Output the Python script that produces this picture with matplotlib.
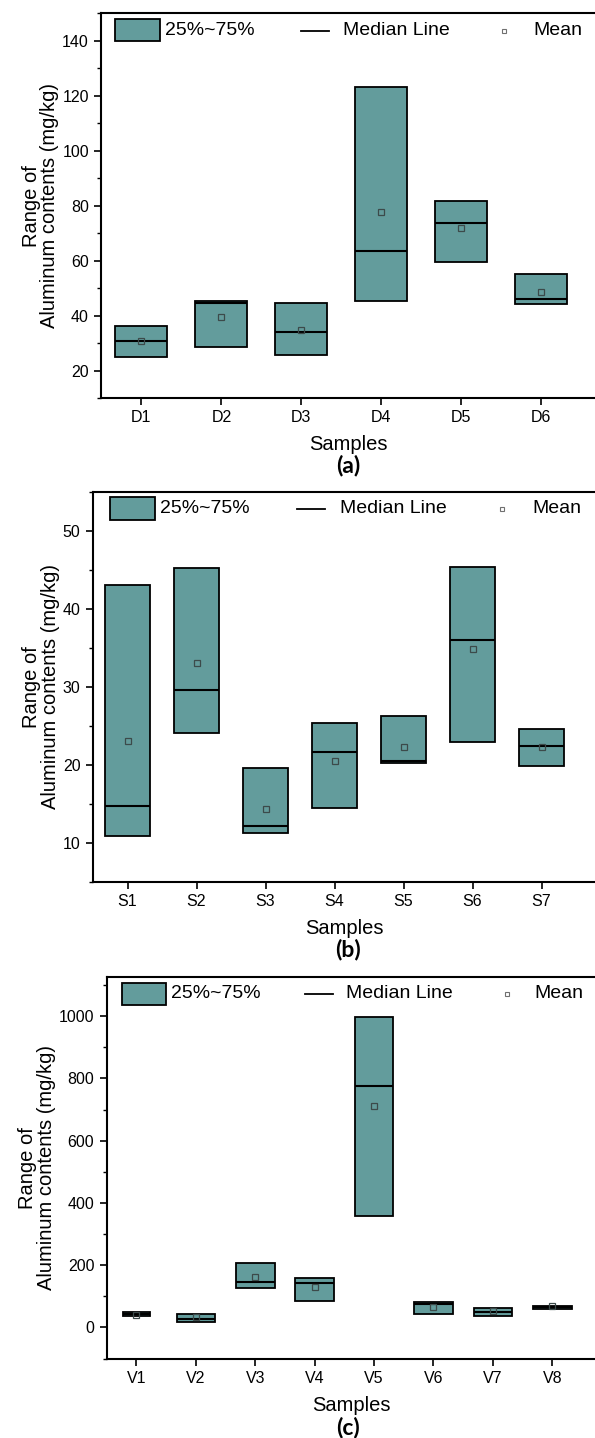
import matplotlib
matplotlib.use("Agg")
import matplotlib.pyplot as plt
from matplotlib.patches import Rectangle
from matplotlib.lines import Line2D
from matplotlib.transforms import Affine2D
from matplotlib.ticker import MultipleLocator

plt.rcParams['font.family'] = ['Liberation Sans', 'DejaVu Sans']

# ---------------- data ----------------
cats_a = ["D1", "D2", "D3", "D4", "D5", "D6"]
q1_a = [25.1, 28.4, 25.6, 45.3, 59.5, 44.3]
q3_a = [36.3, 45.4, 44.6, 123.2, 81.6, 55.1]
med_a = [30.9, 44.7, 34.0, 63.6, 73.6, 46.1]
mean_a = [30.8, 39.4, 34.8, 77.6, 71.8, 48.6]

cats_b = ["S1", "S2", "S3", "S4", "S5", "S6", "S7"]
q1_b = [10.8, 24.1, 11.2, 14.4, 20.2, 22.9, 19.8]
q3_b = [43.0, 45.2, 19.5, 25.3, 26.2, 45.3, 24.6]
med_b = [14.7, 29.5, 12.1, 21.6, 20.4, 36.0, 22.4]
mean_b = [23.0, 33.0, 14.3, 20.5, 22.2, 34.8, 22.2]

cats_c = ["V1", "V2", "V3", "V4", "V5", "V6", "V7", "V8"]
q1_c = [35, 17, 127, 86, 359, 43, 38, 59]
q3_c = [49, 43, 207, 160, 997, 83, 61, 70]
med_c = [43, 27, 146, 143, 776, 74, 49, 64]
mean_c = [40, 32, 161, 130, 712, 65, 53, 68]

# ---------------- style ----------------
W, H = 595, 1438
BOX_COLOR = "#639c9c"
fig = plt.figure(figsize=(W / 100, H / 100), dpi=100)
pix = Affine2D().scale(1 / W, -1 / H).translate(0, 1) + fig.transFigure


def rect(left, top, bottom):
    return [left / W, 1 - bottom / H, 1 - left / W, (bottom - top) / H]


def draw_panel(ax_rect, cats, q1, q3, med, mean, widths, xlim, ylim, major, minor, letter, letter_y):
    ax = fig.add_axes(ax_rect)
    x = list(range(1, len(cats) + 1))
    ax.bar(x, [b - a for a, b in zip(q1, q3)], bottom=q1, width=widths,
           color=BOX_COLOR, edgecolor="black", linewidth=1.3, zorder=2)
    for xi, m, w in zip(x, med, widths):
        ax.plot([xi - w / 2, xi + w / 2], [m, m], color="black", lw=1.5, zorder=3,
                solid_capstyle="butt")
    ax.plot(x, mean, linestyle="none", marker="s", markersize=4, mfc="none",
            mec="#3c4a4a", mew=0.9, zorder=4)
    ax.set_xlim(*xlim)
    ax.set_ylim(*ylim)
    ax.set_xticks(x)
    ax.set_xticklabels(cats)
    ax.yaxis.set_major_locator(MultipleLocator(major))
    ax.yaxis.set_minor_locator(MultipleLocator(minor))
    ax.spines["right"].set_visible(False)
    for s in ("left", "bottom", "top"):
        ax.spines[s].set_linewidth(1.5)
    ax.tick_params(axis="both", which="major", direction="out", length=5, width=1.2,
                   labelsize=11.5, pad=4)
    ax.tick_params(axis="y", which="minor", direction="out", length=3, width=1.0)
    ax.set_xlabel("Samples", fontsize=14.5, labelpad=7)
    ax.set_ylabel("Range of\nAluminum contents (mg/kg)", fontsize=14.5,
                  linespacing=0.98, labelpad=2)
    fig.text(348 / W, 1 - letter_y / H, letter, fontsize=16.5, fontweight="bold",
             family="Lato", ha="center", va="center")
    return ax


def draw_legend(px0, px1, py0, py1, t1x, lx0, lx1, t2x, mx, t3x, yc):
    fig.patches.append(Rectangle((px0, py1), px1 - px0, py0 - py1, transform=pix,
                                 facecolor=BOX_COLOR, edgecolor="black", lw=1.3))
    fig.text(t1x, yc, "25%~75%", transform=pix, fontsize=14, va="center", ha="left")
    fig.lines.append(Line2D([lx0, lx1], [yc, yc], transform=pix, color="black", lw=1.3))
    fig.text(t2x, yc, "Median Line", transform=pix, fontsize=14, va="center", ha="left")
    fig.lines.append(Line2D([mx], [yc], transform=pix, linestyle="none", marker="s",
                            markersize=3.5, mfc="none", mec="#707070", mew=0.8))
    fig.text(t3x, yc, "Mean", transform=pix, fontsize=14, va="center", ha="left")


ax_a = draw_panel(rect(101.4, 13.3, 398), cats_a, q1_a, q3_a, med_a, mean_a,
                  [0.65] * 6, (0.5, 6.67), (10, 150), 20, 10, "(a)", 466)
draw_legend(114.8, 160, 19.5, 41.3, 165, 301, 329, 343, 504, 533, 30.5)

ax_b = draw_panel(rect(93, 491.7, 881.5), cats_b, q1_b, q3_b, med_b, mean_b,
                  [0.65] * 7, (0.5, 7.775), (5, 55), 10, 5, "(b)", 949)
draw_legend(109.8, 155, 497.3, 520, 160, 297, 325, 340, 502, 532, 508.7)

ax_c = draw_panel(rect(106.8, 976.7, 1358.5), cats_c, q1_c, q3_c, med_c, mean_c,
                  [0.47] + [0.65] * 7, (0.5, 8.72), (-100, 1127), 200, 100, "(c)", 1427)
draw_legend(122, 165.7, 983.3, 1005.3, 171.4, 305, 333, 346, 506.7, 534, 994)

fig.savefig("out.png", dpi=100)
